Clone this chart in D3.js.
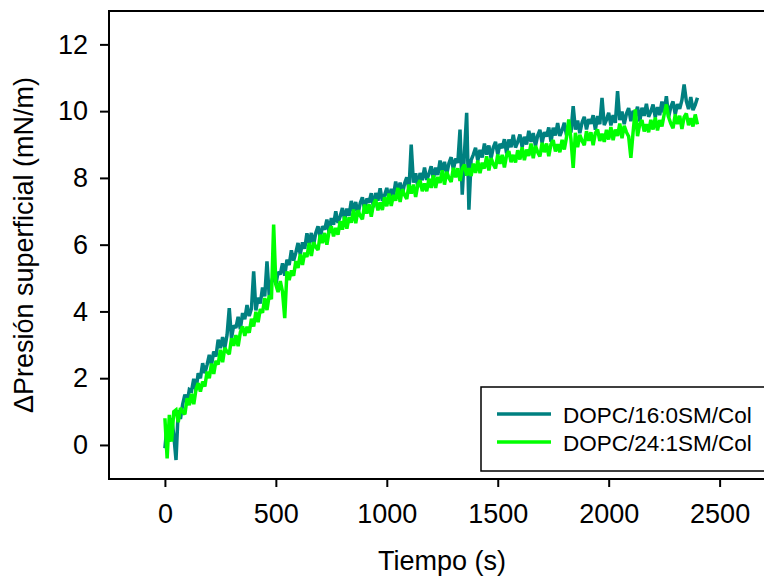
<!DOCTYPE html>
<html>
<head>
<meta charset="utf-8">
<script src="https://cdn.jsdelivr.net/npm/d3@7"></script>
<style>
  body { margin: 0; background: #fff; }
  svg { display: block; }
</style>
</head>
<body>
<div id="chart"></div>
<script>
// sample times (s), one reading every 10 s
var times = [0,10,20,30,40,50,60,70,80,90,100,110,120,130,140,150,160,170,180,190,
  200,210,220,230,240,250,260,270,280,290,300,310,320,330,340,350,360,370,380,390,
  400,410,420,430,440,450,460,470,480,490,500,510,520,530,540,550,560,570,580,590,
  600,610,620,630,640,650,660,670,680,690,700,710,720,730,740,750,760,770,780,790,
  800,810,820,830,840,850,860,870,880,890,900,910,920,930,940,950,960,970,980,990,
  1000,1010,1020,1030,1040,1050,1060,1070,1080,1090,1100,1110,1120,1130,1140,1150,1160,1170,1180,1190,
  1200,1210,1220,1230,1240,1250,1260,1270,1280,1290,1300,1310,1320,1330,1340,1350,1360,1370,1380,1390,
  1400,1410,1420,1430,1440,1450,1460,1470,1480,1490,1500,1510,1520,1530,1540,1550,1560,1570,1580,1590,
  1600,1610,1620,1630,1640,1650,1660,1670,1680,1690,1700,1710,1720,1730,1740,1750,1760,1770,1780,1790,
  1800,1810,1820,1830,1840,1850,1860,1870,1880,1890,1900,1910,1920,1930,1940,1950,1960,1970,1980,1990,
  2000,2010,2020,2030,2040,2050,2060,2070,2080,2090,2100,2110,2120,2130,2140,2150,2160,2170,2180,2190,
  2200,2210,2220,2230,2240,2250,2260,2270,2280,2290,2300,2310,2320,2330,2340,2350,2360,2370,2380,2390,
  2400];

// DOPC/16:0SM/Col  (mN/m)
var sm160 = [-0.1,0.6,0.1,0.8,0.3,-0.45,1.04,0.78,1.22,1.51,1.25,1.66,1.62,1.98,1.64,2.15,2.0,2.45,2.15,2.4,
  2.7,2.4,2.8,2.65,3.15,2.9,3.23,2.91,3.29,4.1,3.2,3.58,3.51,3.84,3.47,3.95,3.77,4.19,3.86,4.08,
  5.2,4.03,4.41,4.24,4.72,4.45,5.5,4.48,4.87,5.11,4.8,5.18,5.11,5.44,5.07,5.55,5.39,5.83,5.52,5.76,
  6.05,5.71,6.07,5.88,6.34,6.05,6.35,6.0,6.35,6.55,6.2,6.55,6.45,6.75,6.35,6.8,6.6,7.0,6.65,6.85,
  7.1,6.74,7.08,6.87,7.31,7.0,7.28,6.91,7.24,7.42,7.05,7.38,7.26,7.54,7.12,7.55,7.32,7.69,7.31,7.48,
  7.7,7.34,7.67,7.46,7.89,7.58,7.86,7.5,7.83,8.02,7.65,9.0,7.86,8.14,7.72,8.15,7.93,8.31,7.94,8.12,
  8.35,7.98,8.31,8.09,8.52,8.2,8.48,8.11,8.44,8.62,8.25,8.58,8.45,9.45,7.5,8.75,9.95,7.05,8.53,8.7,
  8.9,8.52,8.84,8.61,9.03,8.7,8.97,8.59,8.91,9.08,8.7,9.02,8.89,9.16,8.73,9.15,8.92,9.29,8.91,9.08,
  9.3,8.92,9.23,9.0,9.41,9.08,9.34,8.96,9.27,9.44,9.05,9.37,9.24,9.51,9.08,9.5,9.27,9.64,9.26,9.43,
  9.65,9.27,9.59,9.36,10.15,9.45,9.72,9.34,9.66,9.83,9.45,9.76,9.62,9.88,9.44,9.85,9.61,10.4,9.58,9.74,
  9.95,9.57,9.88,9.65,10.6,9.73,9.99,9.61,9.92,10.09,9.7,10.01,9.87,10.13,9.69,10.1,9.86,10.22,9.83,9.99,
  10.2,9.81,10.12,9.88,10.29,9.95,10.45,9.82,10.13,10.29,9.9,10.21,10.07,10.33,10.8,10.3,10.06,10.42,10.03,10.19,
  10.4];

// DOPC/24:1SM/Col  (mN/m)
var sm241 = [0.8,-0.4,0.9,0.1,1.0,1.05,0.68,1.11,0.99,0.92,1.4,1.19,1.53,1.22,1.66,1.85,1.6,1.9,1.75,2.2,
  2.0,2.44,2.13,2.52,2.41,2.85,2.48,2.91,2.79,2.72,3.2,2.97,3.29,2.96,3.38,3.55,3.27,3.54,3.36,3.78,
  3.55,3.99,3.68,4.07,3.96,4.4,4.04,4.48,4.37,6.6,4.8,4.58,4.91,4.59,3.8,5.2,4.94,5.23,5.07,5.51,
  5.3,5.72,5.39,5.76,5.63,6.05,5.66,6.07,5.93,5.84,6.3,6.05,6.35,6.0,6.4,6.55,6.25,6.5,6.3,6.7,
  6.45,6.84,6.48,6.82,6.66,7.05,6.64,7.03,6.87,6.76,7.2,6.93,7.21,6.84,7.22,7.35,7.03,7.26,7.04,7.42,
  7.15,7.53,7.16,7.49,7.32,7.7,7.28,7.66,7.49,7.37,7.8,7.53,7.8,7.43,7.8,7.93,7.6,7.83,7.6,7.98,
  7.7,8.08,7.7,8.03,7.85,8.23,7.8,8.18,8.0,7.88,8.3,8.02,8.29,7.91,8.28,8.4,8.07,8.29,8.06,8.43,
  8.15,8.52,8.14,8.46,8.28,8.65,8.22,8.59,8.41,8.28,8.7,8.42,8.69,8.31,8.68,8.8,8.47,8.69,8.46,8.83,
  8.55,8.92,8.53,8.85,8.66,9.03,8.59,8.96,8.77,8.64,9.05,8.77,9.03,8.65,9.01,9.13,8.79,9.01,8.77,9.14,
  8.85,9.22,9.75,9.16,8.3,9.35,8.92,9.29,9.11,8.98,9.4,9.11,9.37,8.98,9.34,9.45,9.11,9.32,9.08,9.44,
  9.15,9.52,9.13,9.45,9.26,9.63,9.19,9.56,9.37,9.24,8.6,9.37,10.05,9.25,9.61,9.73,9.39,9.61,9.37,9.74,
  9.45,9.81,9.42,9.73,9.54,9.9,10.2,9.82,9.63,9.49,9.9,9.61,9.86,9.47,9.82,9.93,9.58,9.79,9.54,9.9,
  9.6];

var seriesNames = ["DOPC/16:0SM/Col", "DOPC/24:1SM/Col"];
var seriesColors = ["#008080", "#00ff00"];
var xTicks = [0, 500, 1000, 1500, 2000, 2500];
var yTicks = [0, 2, 4, 6, 8, 10, 12];

var W = 764, H = 578;
var mLeft = 109, mTop = 11, mRight = 764, mBottom = 479;
var font = "'Liberation Sans', Arial, Helvetica, sans-serif";

var svg = d3.select("#chart").append("svg")
    .attr("width", W)
    .attr("height", H)
    .style("font-family", font);

var x = d3.scaleLinear().domain([-252, 2700]).range([mLeft, mRight]);
var y = d3.scaleLinear().domain([-1.02, 13]).range([mBottom, mTop]);

// frame (right side runs off the canvas)
svg.append("path")
    .attr("d", "M" + (mRight + 10) + "," + mTop + "H" + mLeft + "V" + mBottom + "H" + (mRight + 10))
    .attr("fill", "none")
    .attr("stroke", "#000")
    .attr("stroke-width", 2);

var line = d3.line()
    .x(function(d) { return x(d[0]); })
    .y(function(d) { return y(d[1]); });

[sm160, sm241].forEach(function(vals, i) {
  svg.append("path")
      .datum(times.map(function(t, j) { return [t, vals[j]]; }))
      .attr("d", line)
      .attr("fill", "none")
      .attr("stroke", seriesColors[i])
      .attr("stroke-width", 3.5)
      .attr("stroke-linejoin", "miter")
      .attr("stroke-miterlimit", 2);
});

var xAxis = svg.append("g")
    .attr("transform", "translate(0," + mBottom + ")")
    .call(d3.axisBottom(x).tickValues(xTicks).tickFormat(d3.format("d"))
      .tickSize(8).tickSizeOuter(0).tickPadding(17));
var yAxis = svg.append("g")
    .attr("transform", "translate(" + mLeft + ",0)")
    .call(d3.axisLeft(y).tickValues(yTicks).tickFormat(d3.format("d"))
      .tickSize(9).tickSizeOuter(0).tickPadding(12));

[xAxis, yAxis].forEach(function(g) {
  g.select(".domain").remove();
  g.selectAll(".tick line").attr("stroke", "#000").attr("stroke-width", 2);
  g.selectAll(".tick text")
      .attr("fill", "#000")
      .style("font-family", font)
      .style("font-size", "27px");
});

// axis titles
svg.append("text")
    .attr("x", 442)
    .attr("y", 570)
    .attr("text-anchor", "middle")
    .style("font-size", "27px")
    .text("Tiempo (s)");

svg.append("text")
    .attr("transform", "translate(33,245) rotate(-90)")
    .attr("text-anchor", "middle")
    .style("font-size", "27px")
    .text("ΔPresión superficial (mN/m)");

// legend
var lg = svg.append("g");
lg.append("rect")
    .attr("x", 481)
    .attr("y", 387)
    .attr("width", 300)
    .attr("height", 84)
    .attr("fill", "#fff")
    .attr("stroke", "#000")
    .attr("stroke-width", 1.5);

seriesNames.forEach(function(name, i) {
  var ly = 414 + i * 28;
  lg.append("line")
      .attr("x1", 497).attr("x2", 551)
      .attr("y1", ly).attr("y2", ly)
      .attr("stroke", seriesColors[i])
      .attr("stroke-width", 3.5);
  lg.append("text")
      .attr("x", 563)
      .attr("y", ly + 9)
      .style("font-size", "22.5px")
      .text(name);
});
</script>
</body>
</html>
